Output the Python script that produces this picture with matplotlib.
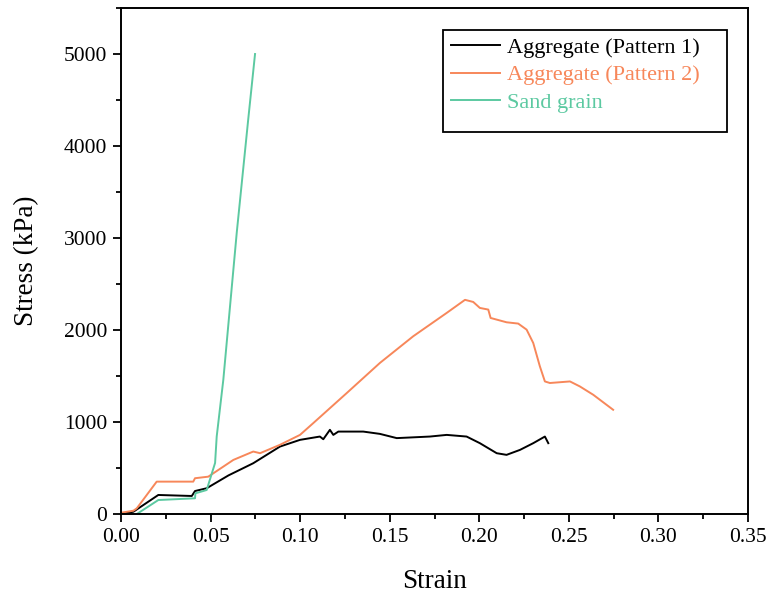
import matplotlib.pyplot as plt
from matplotlib.patches import Rectangle
from matplotlib.ticker import MultipleLocator

plt.rcParams["font.family"] = ["Liberation Serif", "DejaVu Serif"]

# Aggregate, pattern 1
strain_p1 = [0.0, 0.0069, 0.0208, 0.0395, 0.0413, 0.0478, 0.060, 0.0738, 0.0887,
             0.0999, 0.111, 0.1129, 0.1166, 0.1185, 0.1213, 0.1352, 0.1445,
             0.1539, 0.1724, 0.1818, 0.1929, 0.2003, 0.2097, 0.2152, 0.2227,
             0.2301, 0.2366, 0.2385]
stress_p1 = [0, 25, 207, 196, 250, 280, 420, 552, 733,
             806, 842, 813, 915, 860, 896, 896, 871,
             825, 842, 860, 842, 770, 661, 643, 697,
             770, 842, 770]

# Aggregate, pattern 2
strain_p2 = [0.0, 0.0069, 0.0088, 0.0199, 0.0403, 0.0413, 0.0487, 0.0627, 0.0738,
             0.0776, 0.0887, 0.0999, 0.1073, 0.126, 0.1445, 0.1631, 0.1818,
             0.192, 0.1966, 0.2003, 0.205, 0.2063, 0.2152, 0.2217, 0.2264,
             0.2301, 0.2338, 0.2366, 0.2394, 0.2506, 0.2561, 0.2636, 0.2747]
stress_p2 = [14, 36, 62, 352, 352, 389, 406, 588, 679,
             661, 752, 860, 988, 1315, 1642, 1932, 2186,
             2328, 2305, 2240, 2222, 2131, 2084, 2070, 2004,
             1859, 1605, 1441, 1424, 1441, 1387, 1296, 1133]

# Sand grain
strain_sand = [0.0, 0.0088, 0.0208, 0.0413, 0.0415, 0.0478, 0.0525, 0.0534,
               0.0571, 0.0646, 0.071, 0.0748]
stress_sand = [0, 0, 152, 171, 225, 261, 555, 842,
               1460, 3060, 4290, 5000]

C_P1 = "#000000"
C_P2 = "#F7875A"
C_SAND = "#5CC9A1"

fig = plt.figure(figsize=(7.68, 5.97), dpi=100)
ax = fig.add_axes([0.1576, 0.139, 0.8164, 0.8476])

ax.plot(strain_p1, stress_p1, color=C_P1, lw=1.4, label="Aggregate (Pattern 1)")
ax.plot(strain_p2, stress_p2, color=C_P2, lw=1.4, label="Aggregate (Pattern 2)")
ax.plot(strain_sand, stress_sand, color=C_SAND, lw=1.4, label="Sand grain")

ax.set_xlim(0, 0.35)
ax.set_ylim(0, 5500)
ax.xaxis.set_major_locator(MultipleLocator(0.05))
ax.xaxis.set_minor_locator(MultipleLocator(0.025))
ax.yaxis.set_minor_locator(MultipleLocator(500))
ax.set_yticks([0, 1000, 2000, 3000, 4000, 5000])
ax.xaxis.set_major_formatter(plt.FuncFormatter(lambda v, p: f"{v:.2f}"))

ax.tick_params(which="major", direction="out", length=6, width=1.3,
               labelsize=15.5, pad=4)
ax.tick_params(which="minor", direction="out", length=3.5, width=1.3)
for s in ax.spines.values():
    s.set_linewidth(1.4)

ax.set_xlabel("Strain", fontsize=19.5, labelpad=16)
ax.set_ylabel("Stress (kPa)", fontsize=19.5, labelpad=18)

# legend box with some empty space below the entries
ax.add_patch(Rectangle((0.5136, 0.755), 0.453, 0.2015, transform=ax.transAxes,
                       fill=False, edgecolor="black", lw=1.3, zorder=5))
ax.legend(loc="upper left", bbox_to_anchor=(0.5115, 0.96), frameon=False,
          fontsize=16, handlelength=2.2, handletextpad=0.35,
          labelspacing=0.32, labelcolor="linecolor", borderaxespad=0)

fig.savefig("out.png", dpi=100)
